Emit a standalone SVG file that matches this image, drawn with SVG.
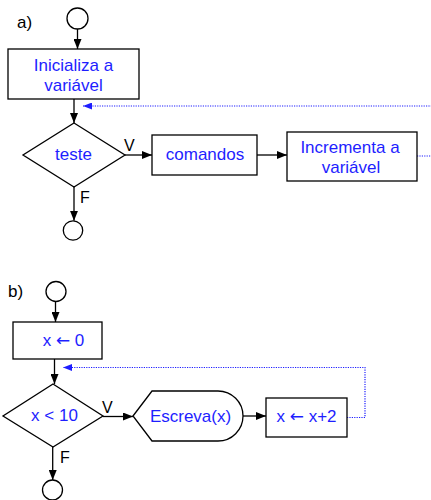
<svg xmlns="http://www.w3.org/2000/svg" width="431" height="500" viewBox="0 0 431 500">
<style>
.shape{fill:#fff;stroke:#000;stroke-width:1.3}
.t{font-family:"Liberation Sans",Arial,sans-serif;font-size:17px;fill:#1e1eff;text-anchor:middle}
.ar{font-family:"DejaVu Sans",sans-serif}
.lbl{font-family:"Liberation Sans",Arial,sans-serif;font-size:16px;fill:#000}
.ln{fill:none;stroke:#000;stroke-width:1.3}
.dot{fill:none;stroke:#1e1eff;stroke-width:1.2;stroke-dasharray:1.2,1.2}
</style>
<defs>
<marker id="ah" markerUnits="userSpaceOnUse" markerWidth="10" markerHeight="8" refX="10" refY="4" orient="auto">
<path d="M0,0 L10,4 L0,8 Z" fill="#000"/>
</marker>
<marker id="bh" markerUnits="userSpaceOnUse" markerWidth="9" markerHeight="7" refX="9" refY="3.5" orient="auto">
<path d="M0,0 L9,3.5 L0,7 Z" fill="#1e1eff"/>
</marker>
</defs>
<rect width="431" height="500" fill="#fff"/>
<text class="lbl" x="17" y="28" style="font-size:17px">a)</text>
<text class="lbl" x="8" y="297" style="font-size:17px">b)</text>
<g id="connectors">
<line class="ln" x1="77.5" y1="29" x2="77.5" y2="49" marker-end="url(#ah)"/>
<line class="ln" x1="74" y1="99" x2="74" y2="123" marker-end="url(#ah)"/>
<line class="ln" x1="125" y1="155" x2="152" y2="155" marker-end="url(#ah)"/>
<line class="ln" x1="257" y1="155" x2="287" y2="155" marker-end="url(#ah)"/>
<line class="ln" x1="74" y1="187" x2="74" y2="220.8" marker-end="url(#ah)"/>
<line class="dot" x1="417" y1="156" x2="432" y2="156"/>
<line class="dot" x1="432" y1="106" x2="83" y2="106" marker-end="url(#bh)"/>
<text class="lbl" x="124" y="151">V</text>
<text class="lbl" x="80" y="203">F</text>
<line class="ln" x1="55.5" y1="301.5" x2="55.5" y2="322" marker-end="url(#ah)"/>
<line class="ln" x1="54.5" y1="359" x2="54.5" y2="384" marker-end="url(#ah)"/>
<line class="ln" x1="103" y1="416.5" x2="133" y2="416.5" marker-end="url(#ah)"/>
<line class="ln" x1="243" y1="416" x2="266" y2="416" marker-end="url(#ah)"/>
<line class="ln" x1="52.7" y1="447" x2="52.7" y2="480" marker-end="url(#ah)"/>
<polyline class="dot" points="347,417.5 365,417.5 365,367.5 63,367.5" marker-end="url(#bh)"/>
<text class="lbl" x="102" y="412.5">V</text>
<text class="lbl" x="60" y="463">F</text>
</g>
<g id="a-start"><circle class="shape" cx="77.5" cy="18.5" r="10.5"/></g>
<g id="a-init"><rect class="shape" x="8" y="49" width="131" height="50"/>
<text class="t" x="73.5" y="71">Inicializa a</text><text class="t" x="73.5" y="91">variável</text></g>
<g id="a-test"><polygon class="shape" points="74,123 125,155 74,187 23,155"/>
<text class="t" x="73.5" y="160">teste</text></g>
<g id="a-cmd"><rect class="shape" x="152" y="135" width="105" height="40"/>
<text class="t" x="205" y="160">comandos</text></g>
<g id="a-inc"><rect class="shape" x="287" y="132" width="130" height="49"/>
<text class="t" x="350" y="153">Incrementa a</text><text class="t" x="351" y="173">variável</text></g>
<g id="a-end"><circle class="shape" cx="73" cy="230.5" r="9.7"/></g>
<g id="b-start"><circle class="shape" cx="56" cy="291.5" r="10"/></g>
<g id="b-init"><rect class="shape" x="13" y="322" width="89" height="37"/>
<text class="t" x="63.5" y="346">x <tspan class="ar">←</tspan> 0</text></g>
<g id="b-test"><polygon class="shape" points="53,384 103,416 53,447 3,416"/>
<text class="t" x="54.5" y="421">x &lt; 10</text></g>
<g id="b-print"><path class="shape" d="M133,416 L152,391 L218,391 A25,25 0 0 1 218,441 L152,441 Z"/>
<text class="t" x="190.5" y="421.5">Escreva(x)</text></g>
<g id="b-inc"><rect class="shape" x="266" y="398" width="81" height="39"/>
<text class="t" x="306.5" y="421.5">x <tspan class="ar">←</tspan> x+2</text></g>
<g id="b-end"><circle class="shape" cx="52.5" cy="490" r="10"/></g>
</svg>
